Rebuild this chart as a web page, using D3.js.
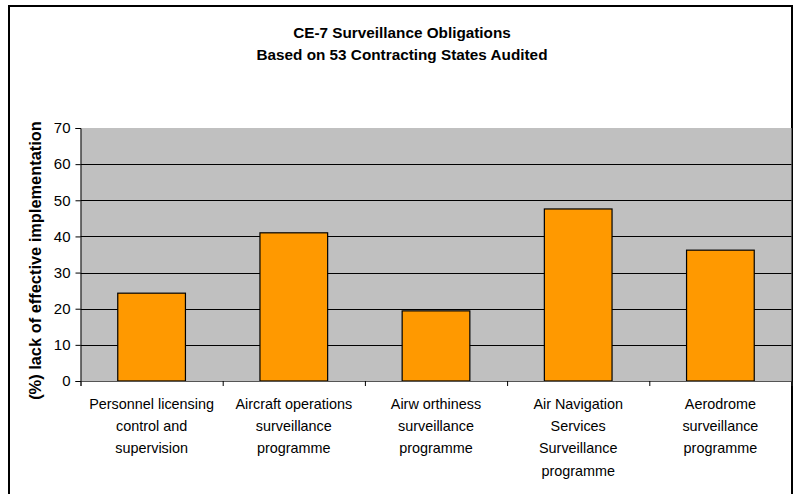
<!DOCTYPE html>
<html>
<head>
<meta charset="utf-8">
<script src="https://cdn.jsdelivr.net/npm/d3@7"></script>
<style>
  html, body { margin: 0; padding: 0; background: #fff; }
  svg { display: block; }
  text { font-family: "Liberation Sans", Arial, sans-serif; }
</style>
</head>
<body>
<svg id="chart" width="793" height="494"></svg>
<script>
const categories = [
  ["Personnel licensing", "control and", "supervision"],
  ["Aircraft operations", "surveillance", "programme"],
  ["Airw orthiness", "surveillance", "programme"],
  ["Air Navigation", "Services", "Surveillance", "programme"],
  ["Aerodrome", "surveillance", "programme"]
];
const values = [24.3, 41.0, 19.4, 47.6, 36.2];
const yTicks = [0, 10, 20, 30, 40, 50, 60, 70];
const titleLines = ["CE-7 Surveillance Obligations", "Based on 53 Contracting States Audited"];
const yTitle = "(%) lack of effective implementation";

const svg = d3.select("#chart");
const plot = { left: 80.5, right: 791.5, top: 128, bottom: 381 };

// outer border
svg.append("rect")
  .attr("x", 9).attr("y", 6)
  .attr("width", 783).attr("height", 500)
  .attr("fill", "#fff").attr("stroke", "#000").attr("stroke-width", 2);

// title
svg.append("g").selectAll("text").data(titleLines).join("text")
  .attr("x", 402).attr("y", (d, i) => 38 + i * 22)
  .attr("text-anchor", "middle")
  .attr("font-size", 15.3).attr("font-weight", "bold")
  .text(d => d);

const idx = categories.map((d, i) => i);
const x = d3.scaleBand().domain(idx).range([plot.left, plot.right])
  .paddingInner(0.524).paddingOuter(0.262);
const xb = d3.scaleLinear().domain([0, categories.length]).range([plot.left, plot.right]);
const y = d3.scaleLinear().domain([0, 70]).range([plot.bottom, plot.top]);

// plot background
svg.append("rect")
  .attr("x", plot.left).attr("y", plot.top)
  .attr("width", plot.right - plot.left).attr("height", plot.bottom - plot.top)
  .attr("fill", "#C0C0C0");

// gridlines
svg.append("g").selectAll("line").data(yTicks.filter(t => t > 0 && t < 70)).join("line")
  .attr("x1", plot.left).attr("x2", plot.right)
  .attr("y1", d => Math.round(y(d)) + 0.5).attr("y2", d => Math.round(y(d)) + 0.5)
  .attr("stroke", "#000").attr("stroke-width", 1);

// bars
svg.append("g").selectAll("rect").data(values).join("rect")
  .attr("x", (d, i) => x(i)).attr("width", x.bandwidth())
  .attr("y", d => y(d)).attr("height", d => y(0) - y(d))
  .attr("fill", "#FF9900").attr("stroke", "#000").attr("stroke-width", 1.2);

// y axis
const yAxis = svg.append("g")
  .attr("transform", `translate(${plot.left},0)`)
  .call(d3.axisLeft(y).tickValues(yTicks).tickSize(5).tickPadding(5));
yAxis.select(".domain").attr("stroke", "#000");
yAxis.selectAll(".tick line").attr("stroke", "#000");
yAxis.selectAll("text").attr("font-size", 15).attr("fill", "#000")
  .attr("font-family", "'Liberation Sans', Arial, sans-serif");

// x axis
const xAxis = svg.append("g")
  .attr("transform", `translate(0,${plot.bottom})`)
  .call(d3.axisBottom(xb).tickValues(d3.range(categories.length + 1)).tickSize(5).tickFormat(""));
xAxis.select(".domain").attr("stroke", "#555");
xAxis.selectAll(".tick line").attr("stroke", "#000");

// category labels
const lab = svg.append("g").selectAll("text").data(categories).join("text")
  .attr("text-anchor", "middle")
  .attr("font-size", 14.4)
  .attr("fill", "#000");
lab.each(function(lines, i) {
  d3.select(this).selectAll("tspan").data(lines).join("tspan")
    .attr("x", x(i) + x.bandwidth() / 2)
    .attr("y", (d, j) => 409 + j * 22.2)
    .text(d => d);
});

// y title
svg.append("text")
  .attr("transform", `translate(41,${(plot.top + plot.bottom) / 2 + 6}) rotate(-90)`)
  .attr("text-anchor", "middle")
  .attr("font-size", 16.4).attr("font-weight", "bold")
  .text(yTitle);
</script>
</body>
</html>
